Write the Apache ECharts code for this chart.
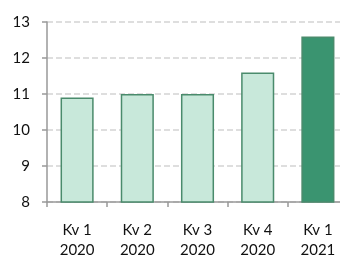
<!DOCTYPE html>
<html>
<head>
<meta charset="utf-8">
<script src="https://cdn.jsdelivr.net/npm/echarts@6/dist/echarts.min.js"></script>
<style>
html,body{margin:0;padding:0;background:#fff;}
#chart{width:340px;height:257px;}
</style>
</head>
<body>
<div id="chart"></div>
<script>
// kvartal og verdier
var kvartaler = ['Kv 1\n2020', 'Kv 2\n2020', 'Kv 3\n2020', 'Kv 4\n2020', 'Kv 1\n2021'];
var verdier = [10.9, 11.0, 11.0, 11.6, 12.6];
var yTicks = [8, 9, 10, 11, 12, 13];

var lys = '#c8e8da';
var mork = '#3a9470';
var kant = '#4a8b6c';

var data = verdier.map(function (v, i) {
    var siste = i === verdier.length - 1;
    return {
        value: v,
        itemStyle: {color: siste ? mork : lys, borderColor: kant, borderWidth: 1.5}
    };
});

var myChart = echarts.init(document.getElementById('chart'));
var option = {
    animation: false,
    grid: {left: 47, width: 301, top: 22, height: 180, outerBoundsMode: 'none', containLabel: false},
    xAxis: {
        type: 'category',
        data: kvartaler,
        axisLine: {lineStyle: {color: '#999', width: 1.5}},
        axisTick: {show: true, length: 5, lineStyle: {color: '#999', width: 1.5}},
        axisLabel: {color: '#111', fontSize: 15, fontFamily: 'Lato', lineHeight: 20, margin: 18}
    },
    yAxis: {
        type: 'value',
        min: yTicks[0],
        max: yTicks[yTicks.length - 1],
        interval: 1,
        axisLine: {show: true, lineStyle: {color: '#999', width: 1.5}},
        axisTick: {show: true, length: 5, lineStyle: {color: '#999', width: 1.5}},
        axisLabel: {color: '#111', fontSize: 15, fontFamily: 'Lato', margin: 17},
        splitLine: {lineStyle: {color: '#d4d4d4', type: 'dashed', width: 1.5}}
    },
    series: [{
        type: 'bar',
        data: data,
        barWidth: '55%'
    }]
};
myChart.setOption(option);
</script>
</body>
</html>
